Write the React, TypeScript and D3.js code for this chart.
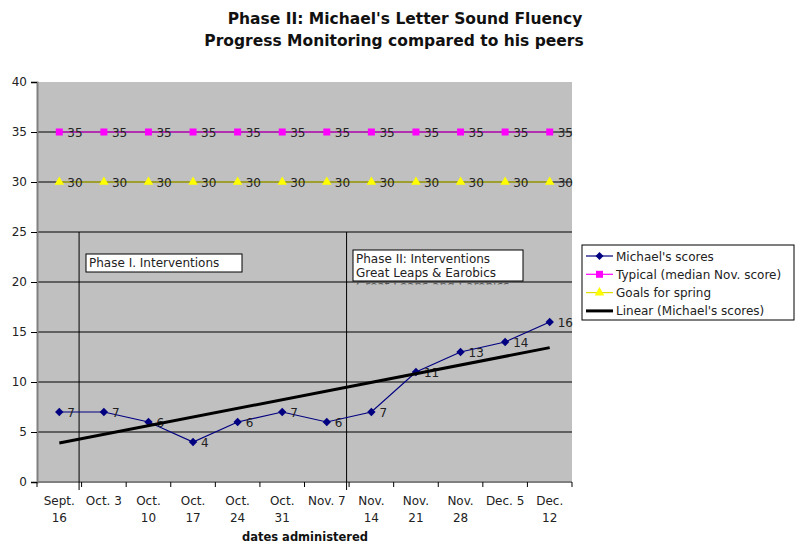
import * as d3 from "d3";
import { useEffect, useRef } from "react";

const dateLabels = [
  ["Sept.", "16"],
  ["Oct. 3"],
  ["Oct.", "10"],
  ["Oct.", "17"],
  ["Oct.", "24"],
  ["Oct.", "31"],
  ["Nov. 7"],
  ["Nov.", "14"],
  ["Nov.", "21"],
  ["Nov.", "28"],
  ["Dec. 5"],
  ["Dec.", "12"],
];
const michaelScores = [7, 7, 6, 4, 6, 7, 6, 7, 11, 13, 14, 16];
const typicalScores = [35, 35, 35, 35, 35, 35, 35, 35, 35, 35, 35, 35];
const springGoals = [30, 30, 30, 30, 30, 30, 30, 30, 30, 30, 30, 30];
const yTicks = [0, 5, 10, 15, 20, 25, 30, 35, 40];

const FONT = "'DejaVu Sans', Verdana, sans-serif";

export default function App() {
  const ref = useRef<SVGSVGElement | null>(null);

  useEffect(() => {
    const width = 796;
    const height = 546;
    const margin = { top: 82, right: 224, bottom: 64, left: 37 };

    const svg = d3.select(ref.current);
    svg.selectAll("*").remove();
    svg.attr("width", width).attr("height", height).style("font-family", FONT);

    const idx = d3.range(dateLabels.length);
    const x = d3
      .scaleBand<number>()
      .domain(idx)
      .range([margin.left, width - margin.right]);
    const cx = (i: number) => (x(i) as number) + x.bandwidth() / 2;
    const y = d3
      .scaleLinear()
      .domain([0, 40])
      .range([height - margin.bottom, margin.top]);

    // diamond = rotated square, like the spreadsheet marker
    const diamond = (size: number) =>
      `M0,${-size}L${size},0L0,${size}L${-size},0Z`;

    // Title
    const title = svg
      .append("text")
      .attr("text-anchor", "middle")
      .attr("font-weight", "bold")
      .attr("font-size", 15.5)
      .attr("fill", "#111");
    title.append("tspan").attr("x", 405).attr("y", 24).text("Phase II: Michael's Letter Sound Fluency");
    title.append("tspan").attr("x", 394).attr("y", 46).text("Progress Monitoring compared to his peers");

    // plot area
    svg
      .append("rect")
      .attr("x", margin.left)
      .attr("y", margin.top)
      .attr("width", width - margin.right - margin.left)
      .attr("height", height - margin.bottom - margin.top)
      .attr("fill", "#c0c0c0");

    // gridlines
    svg
      .append("g")
      .selectAll("line")
      .data(yTicks.filter((t) => t > 0 && t < 40))
      .join("line")
      .attr("x1", margin.left)
      .attr("x2", width - margin.right)
      .attr("y1", (d) => y(d))
      .attr("y2", (d) => y(d))
      .attr("stroke", "#000")
      .attr("stroke-width", 1);

    // y axis
    const yAxis = svg
      .append("g")
      .attr("transform", `translate(${margin.left},0)`)
      .call(d3.axisLeft(y).tickValues(yTicks).tickSize(6).tickPadding(4));
    yAxis.select(".domain").attr("stroke", "#808080").attr("stroke-width", 2);
    yAxis.selectAll(".tick line").attr("stroke", "#000");
    yAxis
      .selectAll(".tick text")
      .attr("font-size", 12)
      .attr("font-family", FONT)
      .attr("fill", "#222");

    // x axis
    const xb = height - margin.bottom;
    svg
      .append("line")
      .attr("x1", margin.left)
      .attr("x2", width - margin.right)
      .attr("y1", xb)
      .attr("y2", xb)
      .attr("stroke", "#808080")
      .attr("stroke-width", 2);
    svg
      .append("g")
      .selectAll("line")
      .data(d3.range(dateLabels.length + 1))
      .join("line")
      .attr("x1", (i) => margin.left + i * x.step())
      .attr("x2", (i) => margin.left + i * x.step())
      .attr("y1", xb)
      .attr("y2", xb + 5)
      .attr("stroke", "#000");
    const xl = svg
      .append("g")
      .selectAll("text")
      .data(idx)
      .join("text")
      .attr("text-anchor", "middle")
      .attr("font-size", 12)
      .attr("fill", "#222");
    xl.each(function (i) {
      const t = d3.select(this);
      dateLabels[i].forEach((s, k) => {
        t.append("tspan")
          .attr("x", cx(i))
          .attr("y", xb + 23 + k * 17)
          .text(s);
      });
    });
    svg
      .append("text")
      .attr("x", 305)
      .attr("y", 541)
      .attr("text-anchor", "middle")
      .attr("font-weight", "bold")
      .attr("font-size", 11.5)
      .attr("fill", "#111")
      .text("dates administered");

    // phase divider lines
    [0, 6].forEach((i) => {
      const px = margin.left + (i + 1) * x.step() - 2.5;
      svg
        .append("line")
        .attr("x1", px)
        .attr("x2", px)
        .attr("y1", y(25))
        .attr("y2", xb + 8)
        .attr("stroke", "#000")
        .attr("stroke-width", 1);
    });

    // faint duplicate caption peeking out below the phase II box
    svg
      .append("clipPath")
      .attr("id", "ghostclip")
      .append("rect")
      .attr("x", 353)
      .attr("y", 281)
      .attr("width", 170)
      .attr("height", 3.5);
    svg
      .append("text")
      .attr("clip-path", "url(#ghostclip)")
      .attr("x", 356)
      .attr("y", 290)
      .attr("font-size", 12)
      .attr("fill", "#555")
      .text("Great Leaps and Earobics");

    // phase text boxes
    const box = (bx: number, by: number, bw: number, bh: number, lines: string[]) => {
      svg
        .append("rect")
        .attr("x", bx)
        .attr("y", by)
        .attr("width", bw)
        .attr("height", bh)
        .attr("fill", "#fff")
        .attr("stroke", "#000");
      lines.forEach((s, k) => {
        svg
          .append("text")
          .attr("x", bx + 3)
          .attr("y", by + 13 + k * 14)
          .attr("font-size", 12)
          .attr("fill", "#222")
          .text(s);
      });
    };
    box(86, 254, 156, 18, ["Phase I. Interventions"]);
    box(353, 250, 170, 31, ["Phase II: Interventions", "Great Leaps & Earobics"]);

    const line = d3
      .line<number>()
      .x((_, i) => cx(i))
      .y((d) => y(d));

    const drawSeries = (
      data: number[],
      color: string,
      lineColor: string,
      markerPath: string
    ) => {
      svg
        .append("path")
        .attr("d", line(data))
        .attr("fill", "none")
        .attr("stroke", lineColor)
        .attr("stroke-width", 1.2);
      svg
        .append("g")
        .selectAll("path")
        .data(data)
        .join("path")
        .attr("transform", (d, i) => `translate(${cx(i)},${y(d)})`)
        .attr("d", markerPath)
        .attr("fill", color);
      svg
        .append("g")
        .selectAll("text")
        .data(data)
        .join("text")
        .attr("x", (_, i) => cx(i) + 8)
        .attr("y", (d) => y(d) + 5)
        .attr("font-size", 12)
        .attr("fill", "#222")
        .text((d) => d);
    };

    const squarePath = d3.symbol().type(d3.symbolSquare).size(49)() as string;
    const trianglePath = d3.symbol().type(d3.symbolTriangle).size(40)() as string;

    drawSeries(typicalScores, "#ff00ff", "#ff00ff", squarePath);
    drawSeries(springGoals, "#ffff00", "#dede00", trianglePath);

    // trend line (least squares of Michael's scores)
    const xs = idx.map((i) => i + 1);
    const mx = d3.mean(xs) as number;
    const my = d3.mean(michaelScores) as number;
    const slope =
      d3.sum(xs, (v, k) => (v - mx) * (michaelScores[k] - my)) /
      d3.sum(xs, (v) => (v - mx) ** 2);
    const icpt = my - slope * mx;

    drawSeries(michaelScores, "#000080", "#000080", diamond(4.2));

    svg
      .append("line")
      .attr("x1", cx(0))
      .attr("x2", cx(idx.length - 1))
      .attr("y1", y(icpt + slope * 1))
      .attr("y2", y(icpt + slope * idx.length))
      .attr("stroke", "#000")
      .attr("stroke-width", 3);

    // legend
    const lg = svg.append("g").attr("transform", "translate(582,245)");
    lg.append("rect")
      .attr("width", 212)
      .attr("height", 75)
      .attr("fill", "#fff")
      .attr("stroke", "#000");
    const legendItems = [
      { label: "Michael's scores", color: "#000080", marker: diamond(4), w: 1.2 },
      { label: "Typical (median Nov. score)", color: "#ff00ff", marker: squarePath, w: 1.2 },
      { label: "Goals for spring", color: "#ffff00", marker: trianglePath, w: 1.2 },
      { label: "Linear (Michael's scores)", color: "#000", marker: null, w: 3 },
    ];
    legendItems.forEach((it, k) => {
      const ly = 11 + k * 18.3;
      lg.append("line")
        .attr("x1", 4)
        .attr("x2", 31)
        .attr("y1", ly)
        .attr("y2", ly)
        .attr("stroke", it.color === "#ffff00" ? "#dede00" : it.color)
        .attr("stroke-width", it.w);
      if (it.marker)
        lg.append("path")
          .attr("transform", `translate(17.5,${ly})`)
          .attr("d", it.marker)
          .attr("fill", it.color);
      lg.append("text")
        .attr("x", 34)
        .attr("y", ly + 4.5)
        .attr("font-size", 12)
        .attr("fill", "#222")
        .text(it.label);
    });
  }, []);

  return <svg ref={ref} style={{ position: "absolute", left: 0, top: 0 }} />;
}
